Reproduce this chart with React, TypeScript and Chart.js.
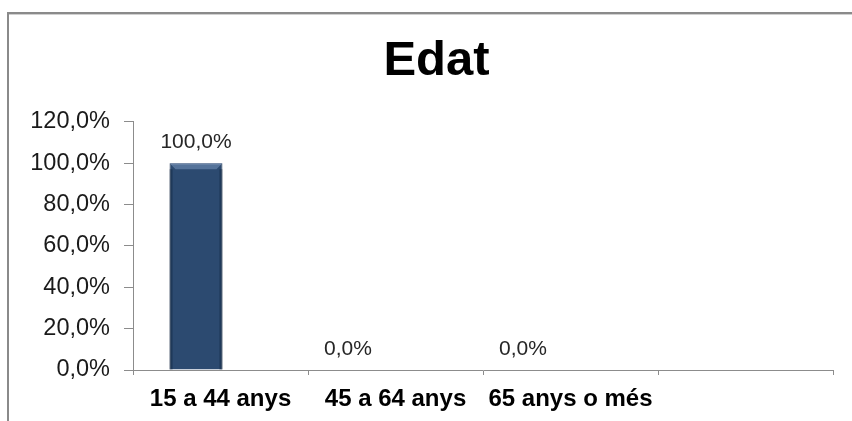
import React, { useEffect, useRef } from "react";
import { Chart, registerables } from "chart.js";

Chart.register(...registerables);

const categories = ["15 a 44 anys", "45 a 64 anys", "65 anys o més", ""];
const seriesValues = [100, 0, 0, null];
const spacerSeries = [null, null, null, null];
const yTicks = [0, 20, 40, 60, 80, 100, 120];
const titleText = "Edat";

const fmt = (v: number) => v.toFixed(1).replace(".", ",") + "%";

const labelPlugin = {
  id: "valueLabels",
  afterDatasetsDraw(chart: any) {
    const ctx = chart.ctx;
    const meta = chart.getDatasetMeta(0);
    ctx.save();
    ctx.font = "21px 'Liberation Sans', Arial, sans-serif";
    ctx.fillStyle = "#262626";
    ctx.textAlign = "center";
    ctx.textBaseline = "alphabetic";
    meta.data.forEach((el: any, i: number) => {
      const v = seriesValues[i];
      if (v === null || v === undefined) return;
      const shift = v === 0 ? -23 : 0;
      ctx.fillText(fmt(v), el.x + shift, el.y - 15);
    });
    ctx.restore();
  },
};

const bevelPlugin = {
  id: "bevel",
  afterDatasetsDraw(chart: any) {
    const ctx = chart.ctx;
    const meta = chart.getDatasetMeta(0);
    ctx.save();
    meta.data.forEach((el: any, i: number) => {
      const v = seriesValues[i];
      if (!v) return;
      const w = el.width;
      const l = el.x - w / 2;
      const r = el.x + w / 2;
      const t = el.y;
      const b = el.base;
      const d = 6;
      ctx.fillStyle = "rgba(120,150,190,0.55)";
      ctx.beginPath();
      ctx.moveTo(l, t);
      ctx.lineTo(r, t);
      ctx.lineTo(r - d, t + d);
      ctx.lineTo(l + d, t + d);
      ctx.closePath();
      ctx.fill();
      ctx.fillStyle = "rgba(10,25,45,0.35)";
      ctx.fillRect(l, t + d, 3, b - t - d);
      ctx.fillRect(r - 3, t + d, 3, b - t - d);
    });
    ctx.restore();
  },
};

const titleShiftPlugin = {
  id: "titleShift",
  afterLayout(chart: any) {
    if (chart.titleBlock) chart.titleBlock.left = 40;
  },
};

export default function App() {
  const ref = useRef<HTMLCanvasElement | null>(null);

  useEffect(() => {
    if (!ref.current) return;
    const chart = new Chart(ref.current, {
      type: "bar",
      data: {
        labels: categories,
        datasets: [
          {
            data: seriesValues as any,
            backgroundColor: "#2c4a70",
            borderColor: "#1c3150",
            borderWidth: 1,
            categoryPercentage: 0.56,
            barPercentage: 1.08,
          },
          {
            data: spacerSeries as any,
            backgroundColor: "rgba(0,0,0,0)",
            categoryPercentage: 0.56,
            barPercentage: 1.08,
          },
        ],
      },
      options: {
        animation: false,
        responsive: false,
        maintainAspectRatio: false,
        devicePixelRatio: 1,
        layout: { padding: { left: 0, right: 19, top: 0, bottom: 0 } },
        plugins: {
          legend: { display: false },
          tooltip: { enabled: false },
          title: {
            display: true,
            text: titleText,
            color: "#000",
            font: { family: "'Liberation Sans', Arial, sans-serif", size: 49, weight: "bold", lineHeight: 1.2 },
            padding: { top: 32, bottom: 31 },
          },
        },
        scales: {
          x: {
            grid: {
              display: true,
              drawOnChartArea: false,
              drawTicks: true,
              tickLength: 5,
              color: "#8c8c8c",
              offset: true,
            },
            border: { display: true, color: "#8c8c8c", width: 1 },
            ticks: {
              color: "#000",
              padding: 10,
              maxRotation: 0,
              autoSkip: false,
              font: { family: "'Liberation Sans', Arial, sans-serif", size: 24, weight: "bold" },
            },
            afterFit(scale: any) {
              scale.height = 51;
            },
          },
          y: {
            min: 0,
            max: 120,
            afterBuildTicks(scale: any) {
              scale.ticks = yTicks.map((v) => ({ value: v }));
            },
            grid: {
              display: true,
              drawOnChartArea: false,
              drawTicks: true,
              tickLength: 9,
              color: "#8c8c8c",
            },
            border: { display: true, color: "#8c8c8c", width: 1 },
            ticks: {
              color: "#1a1a1a",
              padding: 14,
              callback: (v: any) => fmt(Number(v)),
              font: { family: "'Liberation Sans', Arial, sans-serif", size: 23.5 },
            },
            afterFit(scale: any) {
              scale.width = 133;
            },
          },
        },
      },
      plugins: [labelPlugin, bevelPlugin, titleShiftPlugin],
    });
    return () => chart.destroy();
  }, []);

  return (
    <div style={{ position: "absolute", left: 0, top: 0, width: 852, height: 421, background: "#fff", overflow: "hidden" }}>
      <div
        style={{
          position: "absolute",
          left: 7,
          top: 12,
          width: 900,
          height: 500,
          borderLeft: "2px solid #8a8a8a",
          borderTop: "2px solid #8a8a8a",
          boxShadow: "inset 0 1px 0 #d0d0d0",
        }}
      />
      <canvas ref={ref} width={852} height={421} style={{ position: "absolute", left: 0, top: 0, width: 852, height: 421 }} />
    </div>
  );
}
